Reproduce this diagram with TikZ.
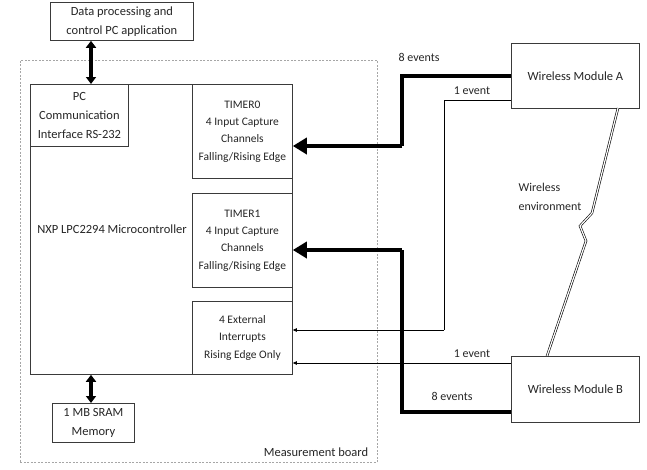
\documentclass[tikz,border=0pt]{standalone}
\usepackage{fontspec}
\setmainfont{Carlito}
\usetikzlibrary{arrows.meta}
\definecolor{boxc}{HTML}{3A3A3A}
\definecolor{txtc}{HTML}{262626}
\begin{document}
\begin{tikzpicture}[x=1pt,y=-1pt,
  blk/.style={draw=boxc, line width=0.8pt, align=center, inner sep=0pt, anchor=north west, text=txtc, font=\fontsize{12.5}{19}\selectfont},
  tbox/.style={blk, font=\fontsize{11.5}{17.3}\selectfont},
  lbl/.style={text=txtc, font=\fontsize{12}{14}\selectfont, inner sep=0pt},
  thickarr/.style={line width=4pt, -{Triangle[length=14pt,width=16pt]}},
  thinarr/.style={line width=0.8pt, -{Triangle[length=4pt,width=3.5pt]}},
  dblarr/.style={line width=3.4pt, {Triangle[length=7pt,width=10pt]}-{Triangle[length=7pt,width=10pt]}},
  boardst/.style={draw=gray!70, line width=0.6pt, dash pattern=on 2pt off 1.5pt, anchor=north west, inner sep=0pt}
]
\useasboundingbox (0,0) rectangle (647,469);
\fill[white] (0,0) rectangle (647,469);

% measurement board
\node[boardst, minimum width=357pt, minimum height=402pt] (board) at (20,60) {};
\node[lbl, font=\fontsize{12.5}{15}\selectfont] (boardlbl) at (316,452) {Measurement board};

% top box
\node[blk, minimum width=143pt, minimum height=38pt] (pcapp) at (50,2) {Data processing and\\control PC application};

% microcontroller
\node[blk, minimum width=262pt, minimum height=290pt] (mcu) at (30,84) {};
\node[lbl, font=\fontsize{12.5}{15}\selectfont] (mculbl) at (112,229) {NXP LPC2294 Microcontroller};
\node[blk, minimum width=98pt, minimum height=62pt] (pccom) at (30,84) {PC\\Communication\\Interface RS-232};
\node[tbox, minimum width=100pt, minimum height=94pt] (t0) at (192,84) {TIMER0\\4 Input Capture\\Channels\\Falling/Rising Edge};
\node[tbox, minimum width=100pt, minimum height=94pt] (t1) at (192,193) {TIMER1\\4 Input Capture\\Channels\\Falling/Rising Edge};
\node[tbox, minimum width=100pt, minimum height=73pt] (ext) at (192,301) {4 External\\Interrupts\\Rising Edge Only};

% memory
\node[blk, minimum width=82pt, minimum height=39pt] (sram) at (52,403) {1 MB SRAM\\Memory};

% wireless modules
\node[blk, minimum width=128pt, minimum height=65pt] (wma) at (511,43) {Wireless Module A};
\node[blk, minimum width=128pt, minimum height=66pt] (wmb) at (511,356) {Wireless Module B};

% double arrows
\coordinate (ux) at (91,0);
\draw[dblarr] (pcapp.south -| ux) -- (pccom.north -| ux);
\draw[dblarr] (mcu.south -| ux) -- (sram.north -| ux);

% connectors from module A
\coordinate (a8) at (0,76);
\coordinate (a8b) at (402,146);
\coordinate (a1) at (0,100);
\coordinate (a1b) at (444,330);
\draw[line width=4pt] (wma.west |- a8) -| (a8b);
\draw[thickarr] (a8b) -- (t0.east |- a8b);
\draw[line width=0.8pt] (wma.west |- a1) -| (a1b);
\draw[thinarr] (a1b) -- (ext.east |- a1b);

% connectors from module B
\coordinate (b1) at (0,363);
\coordinate (b8) at (0,412);
\coordinate (b8b) at (402,250);
\draw[thinarr] (wmb.west |- b1) -- (ext.east |- b1);
\draw[line width=4pt] (wmb.west |- b8) -| (b8b);
\draw[thickarr] (b8b) -- (t1.east |- b8b);

% labels
\node[lbl] (l8a) at (419,57) {8 events};
\node[lbl] (l1a) at (472,91) {1 event};
\node[lbl] (l1b) at (472,354) {1 event};
\node[lbl] (l8b) at (452,396) {8 events};

% wireless link
\coordinate (za) at (618,108);
\coordinate (zb) at (592,213);
\coordinate (zc) at (580,226);
\coordinate (zd) at (586,241);
\coordinate (ze) at (547,356);
\draw[line width=0.6pt, double=white, double distance=1.2pt, line join=miter] (za) -- (zb) -- (zc) -- (zd) -- (ze);
\node[lbl, align=left, font=\fontsize{12}{19}\selectfont] (wenv) at (550,197) {Wireless\\environment};
\end{tikzpicture}
\end{document}
